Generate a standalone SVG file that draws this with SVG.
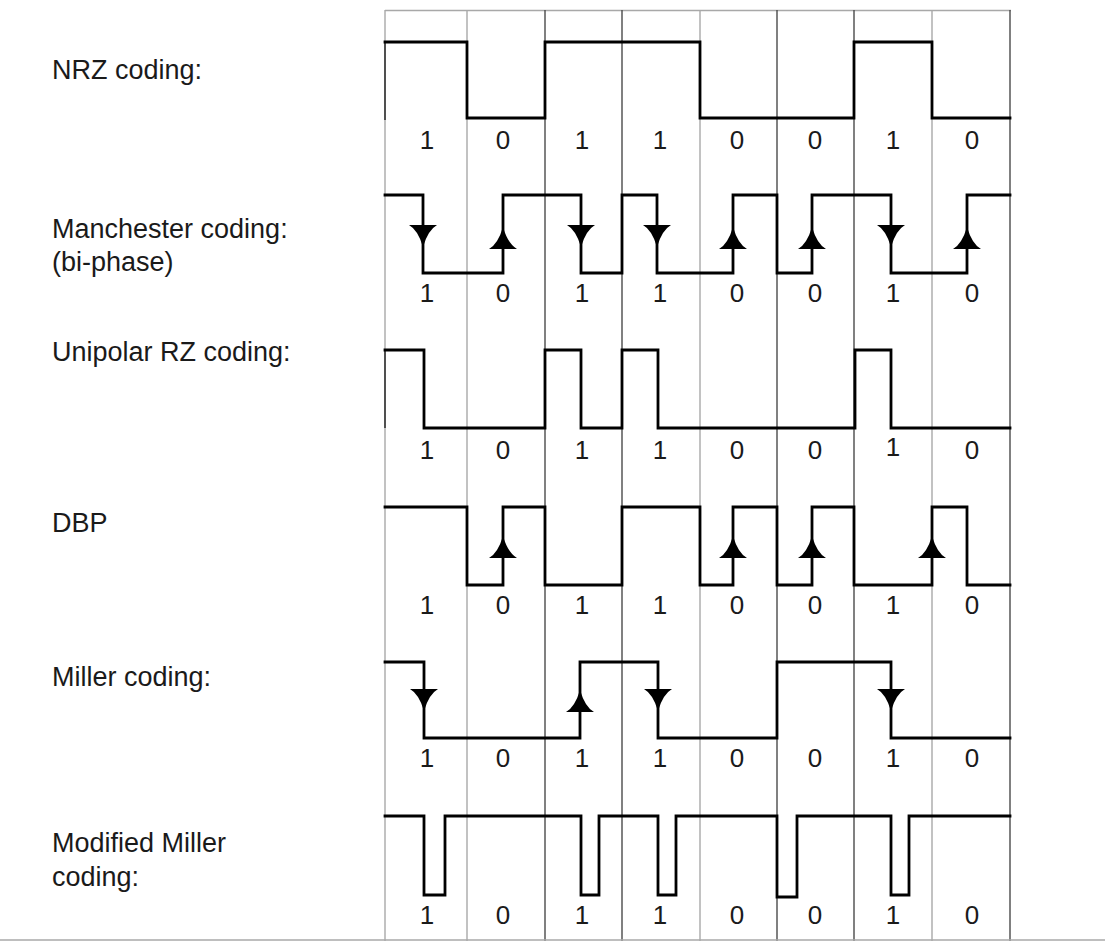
<svg xmlns="http://www.w3.org/2000/svg" xmlns:xlink="http://www.w3.org/1999/xlink" width="1105" height="941" viewBox="0 0 1105 941">
<style>
  .lbl { font-family: "Liberation Sans", Arial, sans-serif; font-size: 27px; fill: #1a1a1a; }
  .bit { font-family: "Liberation Sans", Arial, sans-serif; font-size: 26px; fill: #1a1a1a; text-anchor: middle; }
  .gl { stroke: #a8a8a8; stroke-width: 1.4; fill: none; }
  .gd { stroke: #4a4a4a; stroke-width: 1.4; fill: none; }
  .sig { stroke: #000; stroke-width: 2.8; fill: none; stroke-linejoin: miter; stroke-linecap: square; }
  .edge { stroke: #333; stroke-width: 1.6; fill: none; }
  .arr { fill: #000; }
</style>
<defs>
  <path id="dn" d="M-14,0 H14 Q5,5 0,22 Q-5,5 -14,0 Z"/>
  <path id="up" d="M-14,22 H14 Q5,17 0,0 Q-5,17 -14,22 Z"/>
</defs>
<rect width="1105" height="941" fill="#fff"/>
<g id="grid">
  <line class="gl" x1="385" y1="10.5" x2="1011" y2="10.5"/>
  <line class="gl" x1="385" y1="10" x2="385" y2="941"/>
  <line class="gl" x1="467" y1="10" x2="467" y2="941"/>
  <line class="gd" x1="545" y1="10" x2="545" y2="941"/>
  <line class="gd" x1="622" y1="10" x2="622" y2="941"/>
  <line class="gl" x1="700" y1="10" x2="700" y2="941"/>
  <line class="gd" x1="777" y1="10" x2="777" y2="941"/>
  <line class="gd" x1="854" y1="10" x2="854" y2="941"/>
  <line class="gl" x1="932" y1="10" x2="932" y2="941"/>
  <line class="gd" x1="1010" y1="10" x2="1010" y2="941"/>
  <line class="gl" x1="0" y1="940" x2="1105" y2="940"/>
</g>
<g id="nrz">
  <text class="lbl" x="52" y="79">NRZ coding:</text>
  <line class="edge" x1="385" y1="42" x2="385" y2="120"/>
  <path class="sig" d="M385,42 H467 V118 H545 V42 H700 V118 H854 V42 H932 V118 H1010"/>
  <text class="bit" x="427" y="149">1</text><text class="bit" x="503" y="149">0</text>
  <text class="bit" x="582" y="149">1</text><text class="bit" x="660" y="149">1</text>
  <text class="bit" x="737" y="149">0</text><text class="bit" x="815" y="149">0</text>
  <text class="bit" x="893" y="149">1</text><text class="bit" x="972" y="149">0</text>
</g>
<g id="manchester">
  <text class="lbl" x="52" y="238">Manchester coding:</text>
  <text class="lbl" x="52" y="271">(bi-phase)</text>
  <path class="sig" d="M385,195 H423 V273 H503 V195 H581 V273 H622 V195 H657 V273 H733 V195 H777 V273 H812 V195 H891 V273 H967 V195 H1010"/>
  <use xlink:href="#dn" href="#dn" class="arr" x="423" y="225"/>
  <use xlink:href="#up" href="#up" class="arr" x="503" y="227"/>
  <use xlink:href="#dn" href="#dn" class="arr" x="581" y="225"/>
  <use xlink:href="#dn" href="#dn" class="arr" x="657" y="225"/>
  <use xlink:href="#up" href="#up" class="arr" x="733" y="227"/>
  <use xlink:href="#up" href="#up" class="arr" x="812" y="227"/>
  <use xlink:href="#dn" href="#dn" class="arr" x="891" y="225"/>
  <use xlink:href="#up" href="#up" class="arr" x="967" y="227"/>
  <text class="bit" x="427" y="302">1</text><text class="bit" x="503" y="302">0</text>
  <text class="bit" x="582" y="302">1</text><text class="bit" x="660" y="302">1</text>
  <text class="bit" x="737" y="302">0</text><text class="bit" x="815" y="302">0</text>
  <text class="bit" x="893" y="302">1</text><text class="bit" x="972" y="302">0</text>
</g>
<g id="unipolar-rz">
  <text class="lbl" x="52" y="361">Unipolar RZ coding:</text>
  <line class="edge" x1="385" y1="350" x2="385" y2="428"/>
  <path class="sig" d="M385,350 H424 V428 H545 V350 H581 V428 H622 V350 H658 V428 H855 V350 H891 V428 H1010"/>
  <text class="bit" x="427" y="459">1</text><text class="bit" x="503" y="459">0</text>
  <text class="bit" x="582" y="459">1</text><text class="bit" x="660" y="459">1</text>
  <text class="bit" x="737" y="459">0</text><text class="bit" x="815" y="459">0</text>
  <text class="bit" x="893" y="456">1</text><text class="bit" x="972" y="459">0</text>
</g>
<g id="dbp">
  <text class="lbl" x="52" y="532">DBP</text>
  <path class="sig" d="M385,507 H467 V585 H503 V507 H545 V585 H622 V507 H700 V585 H733 V507 H777 V585 H812 V507 H854 V585 H932 V507 H967 V585 H1010"/>
  <use xlink:href="#up" href="#up" class="arr" x="503" y="536"/>
  <use xlink:href="#up" href="#up" class="arr" x="733" y="536"/>
  <use xlink:href="#up" href="#up" class="arr" x="812" y="536"/>
  <use xlink:href="#up" href="#up" class="arr" x="932" y="536"/>
  <text class="bit" x="427" y="614">1</text><text class="bit" x="503" y="614">0</text>
  <text class="bit" x="582" y="614">1</text><text class="bit" x="660" y="614">1</text>
  <text class="bit" x="737" y="614">0</text><text class="bit" x="815" y="614">0</text>
  <text class="bit" x="893" y="614">1</text><text class="bit" x="972" y="614">0</text>
</g>
<g id="miller">
  <text class="lbl" x="52" y="686">Miller coding:</text>
  <path class="sig" d="M385,662 H424 V738 H580 V662 H658 V738 H777 V662 H891 V738 H1010"/>
  <use xlink:href="#dn" href="#dn" class="arr" x="424" y="689"/>
  <use xlink:href="#up" href="#up" class="arr" x="580" y="690"/>
  <use xlink:href="#dn" href="#dn" class="arr" x="658" y="689"/>
  <use xlink:href="#dn" href="#dn" class="arr" x="891" y="689"/>
  <text class="bit" x="427" y="767">1</text><text class="bit" x="503" y="767">0</text>
  <text class="bit" x="582" y="767">1</text><text class="bit" x="660" y="767">1</text>
  <text class="bit" x="737" y="767">0</text><text class="bit" x="815" y="767">0</text>
  <text class="bit" x="893" y="767">1</text><text class="bit" x="972" y="767">0</text>
</g>
<g id="modified-miller">
  <text class="lbl" x="52" y="852">Modified Miller</text>
  <text class="lbl" x="52" y="886">coding:</text>
  <path class="sig" d="M385,816 H424 V895 H445 V816 H581 V895 H599 V816 H658 V895 H676 V816 H777 V897 H797 V816 H891 V895 H909 V816 H1010"/>
  <text class="bit" x="427" y="924">1</text><text class="bit" x="503" y="924">0</text>
  <text class="bit" x="582" y="924">1</text><text class="bit" x="660" y="924">1</text>
  <text class="bit" x="737" y="924">0</text><text class="bit" x="815" y="924">0</text>
  <text class="bit" x="893" y="924">1</text><text class="bit" x="972" y="924">0</text>
</g>
</svg>
